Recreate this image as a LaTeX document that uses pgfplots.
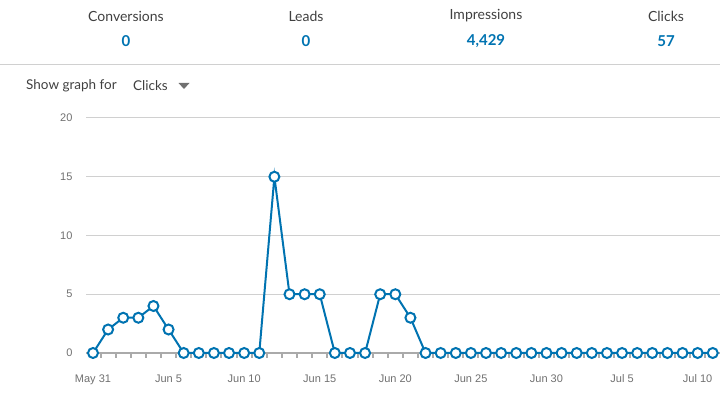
\documentclass[border=0pt]{standalone}
\usepackage{fontspec}
\setmainfont{Lato}
\newfontfamily\arial{Liberation Sans}
\usepackage{pgfplots}
\pgfplotsset{compat=1.18}
\definecolor{lnblue}{HTML}{0073B1}
\definecolor{hdr}{HTML}{404040}
\definecolor{tickgray}{HTML}{707070}
\definecolor{gridgray}{HTML}{D0D0D0}
\definecolor{axgray}{HTML}{AAAAAA}
\begin{document}
\begin{tikzpicture}
\path[use as bounding box] (0pt,0pt) rectangle (720pt,396pt);
% header
\node[font=\fontsize{14}{16}\selectfont, text=hdr] at (126pt,380pt) {Conversions};
\node[font=\fontsize{15}{17}\selectfont\bfseries, text=lnblue] at (126pt,355pt) {0};
\node[font=\fontsize{14}{16}\selectfont, text=hdr] at (306pt,380pt) {Leads};
\node[font=\fontsize{15}{17}\selectfont\bfseries, text=lnblue] at (306pt,355pt) {0};
\node[font=\fontsize{14}{16}\selectfont, text=hdr] at (486pt,380pt) {Impressions};
\node[font=\fontsize{15}{17}\selectfont\bfseries, text=lnblue] at (486pt,355pt) {4,429};
\node[font=\fontsize{14}{16}\selectfont, text=hdr] at (666pt,380pt) {Clicks};
\node[font=\fontsize{15}{17}\selectfont\bfseries, text=lnblue] at (666pt,355pt) {57};
\draw[gridgray, line width=1pt] (0pt,331pt) -- (720pt,331pt);
\node[anchor=west, inner sep=0pt, font=\fontsize{13.5}{16}\selectfont, text=hdr] at (26pt,310pt) {Show graph for};
\node[anchor=west, inner sep=0pt, font=\fontsize{13.5}{16}\selectfont, text=hdr] at (133pt,310pt) {Clicks};
\fill[tickgray] (178.5pt,313pt) -- (189.5pt,313pt) -- (184pt,307pt) -- cycle;
\begin{axis}[
  at={(93pt,43pt)}, anchor=origin,
  scale only axis, width=634pt, height=235pt,
  xmin=-0.463, xmax=41.48, ymin=0, ymax=20,
  clip=false,
  axis x line*=bottom, axis y line*=left,
  y axis line style={draw=none},
  x axis line style={draw=axgray, line width=2.5pt, -},
  ytick={0,5,10,15,20},
  ymajorgrids, grid style={gridgray, line width=1pt},
  xtick={0,5,10,15,20,25,30,35,40},
  xticklabels={May 31, Jun 5, Jun 10, Jun 15, Jun 20, Jun 25, Jun 30, Jul 5, Jul 10},
  minor xtick={-0.5,0.5,...,41.5},
  major tick length=0pt, minor tick length=5pt,
  tick align=outside,
  minor tick style={axgray, line width=2pt},
  /pgf/number format/assume math mode=true,
  ticklabel style={font=\arial\fontsize{11}{13}\selectfont, text=tickgray},
  xticklabel style={yshift=-18pt},
  yticklabel style={xshift=-10pt},
]
\addplot[lnblue, line width=2pt, mark=*, mark size=5pt,
  mark options={fill=white, draw=lnblue, line width=2pt}] coordinates {
(0,0) (1,2) (2,3) (3,3) (4,4) (5,2) (6,0) (7,0) (8,0) (9,0) (10,0)
(11,0) (12,15) (13,5) (14,5) (15,5) (16,0) (17,0) (18,0) (19,5) (20,5)
(21,3) (22,0) (23,0) (24,0) (25,0) (26,0) (27,0) (28,0) (29,0) (30,0)
(31,0) (32,0) (33,0) (34,0) (35,0) (36,0) (37,0) (38,0) (39,0) (40,0) (41,0)
};
\end{axis}
\end{tikzpicture}
\end{document}
